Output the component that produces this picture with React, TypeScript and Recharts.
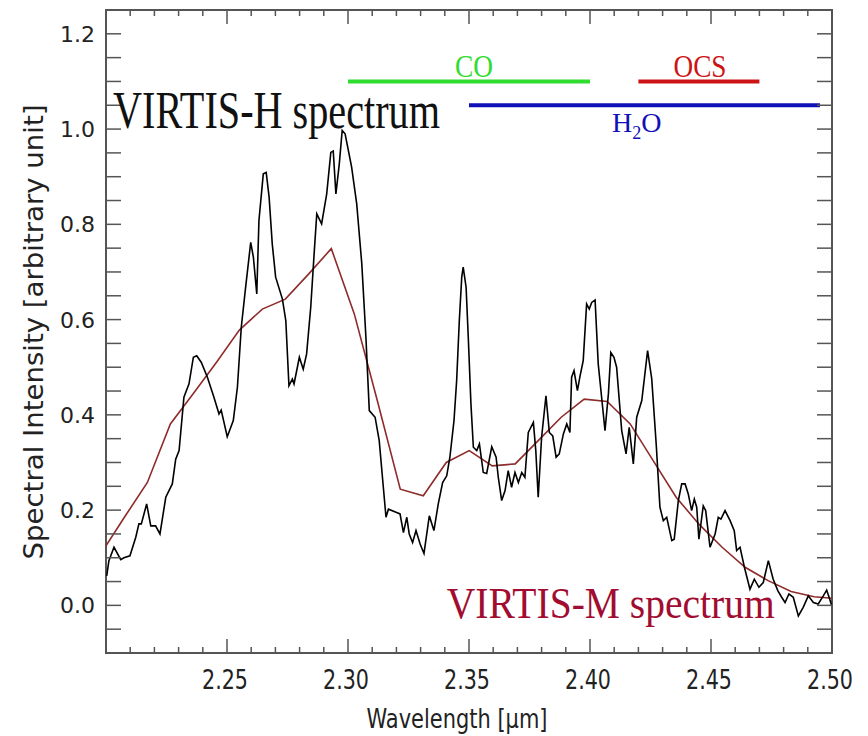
import React from "react";
import { LineChart, Line, XAxis, YAxis, ReferenceArea, ReferenceLine } from "recharts";

// VIRTIS-H high resolution spectrum (wavelength in µm, arbitrary intensity)
const H_WAVE = [
  2.2003, 2.2012, 2.2033, 2.2061, 2.2074, 2.2099, 2.2123, 2.2136, 2.2146, 2.2168,
  2.2185, 2.2205, 2.2223, 2.2247, 2.2274, 2.2288, 2.2302, 2.2322, 2.2343, 2.2361,
  2.2375, 2.2394, 2.2419, 2.2446, 2.2467, 2.2476, 2.2501, 2.2526, 2.2543, 2.2559,
  2.2577, 2.2598, 2.2609, 2.2623, 2.2632, 2.2650, 2.2662, 2.2674, 2.2687, 2.2701,
  2.2729, 2.2743, 2.2756, 2.2770, 2.2777, 2.2799, 2.2815, 2.2829, 2.2846, 2.2860,
  2.2871, 2.2891, 2.2912, 2.2929, 2.2939, 2.2950, 2.2964, 2.2976, 2.2988, 2.3015,
  2.3036, 2.3057, 2.3074, 2.3088, 2.3112, 2.3129, 2.3146, 2.3157, 2.3167, 2.3201,
  2.3215, 2.3229, 2.3243, 2.3253, 2.3267, 2.3281, 2.3298, 2.3314, 2.3336, 2.3355,
  2.3373, 2.3391, 2.3408, 2.3421, 2.3438, 2.3449, 2.3460, 2.3470, 2.3476, 2.3488,
  2.3497, 2.3508, 2.3518, 2.3532, 2.3543, 2.3559, 2.3573, 2.3594, 2.3612, 2.3621,
  2.3635, 2.3649, 2.3662, 2.3676, 2.3690, 2.3704, 2.3718, 2.3731, 2.3745, 2.3766,
  2.3776, 2.3786, 2.3800, 2.3818, 2.3832, 2.3846, 2.3860, 2.3873, 2.3890, 2.3904,
  2.3917, 2.3924, 2.3934, 2.3948, 2.3959, 2.3972, 2.3986, 2.3997, 2.4007, 2.4021,
  2.4034, 2.4048, 2.4062, 2.4076, 2.4086, 2.4099, 2.4110, 2.4131, 2.4149, 2.4162,
  2.4179, 2.4193, 2.4214, 2.4238, 2.4255, 2.4274, 2.4289, 2.4303, 2.4317, 2.4338,
  2.4348, 2.4365, 2.4379, 2.4393, 2.4406, 2.4420, 2.4431, 2.4441, 2.4450, 2.4468,
  2.4478, 2.4496, 2.4517, 2.4530, 2.4541, 2.4558, 2.4579, 2.4596, 2.4606, 2.4620,
  2.4638, 2.4661, 2.4679, 2.4698, 2.4716, 2.4737, 2.4757, 2.4776, 2.4792, 2.4806,
  2.4822, 2.4840, 2.4861, 2.4881, 2.4902, 2.4923, 2.4943, 2.4964, 2.4978, 2.4988,
  2.4999,
];
const H_INT = [
  0.062, 0.094, 0.122, 0.096, 0.100, 0.104, 0.143, 0.171, 0.171, 0.213,
  0.167, 0.167, 0.150, 0.227, 0.255, 0.307, 0.325, 0.437, 0.465, 0.521,
  0.524, 0.510, 0.479, 0.437, 0.402, 0.410, 0.354, 0.388, 0.458, 0.584,
  0.668, 0.762, 0.731, 0.654, 0.808, 0.906, 0.909, 0.857, 0.759, 0.689,
  0.643, 0.598, 0.461, 0.475, 0.465, 0.521, 0.496, 0.528, 0.626, 0.738,
  0.822, 0.801, 0.864, 0.951, 0.954, 0.864, 0.927, 0.997, 0.990, 0.920,
  0.843, 0.717, 0.563, 0.409, 0.395, 0.346, 0.248, 0.185, 0.202, 0.195,
  0.192, 0.153, 0.185, 0.150, 0.132, 0.157, 0.129, 0.109, 0.188, 0.157,
  0.213, 0.258, 0.272, 0.311, 0.388, 0.472, 0.598, 0.689, 0.710, 0.668,
  0.563, 0.423, 0.332, 0.325, 0.339, 0.279, 0.277, 0.333, 0.311, 0.269,
  0.220, 0.241, 0.283, 0.248, 0.279, 0.258, 0.279, 0.269, 0.363, 0.384,
  0.325, 0.227, 0.353, 0.440, 0.363, 0.356, 0.311, 0.318, 0.360, 0.381,
  0.363, 0.479, 0.493, 0.451, 0.482, 0.514, 0.633, 0.622, 0.636, 0.641,
  0.507, 0.437, 0.367, 0.444, 0.531, 0.521, 0.500, 0.367, 0.318, 0.374,
  0.297, 0.395, 0.430, 0.535, 0.476, 0.335, 0.206, 0.178, 0.185, 0.136,
  0.139, 0.220, 0.255, 0.255, 0.234, 0.199, 0.223, 0.206, 0.139, 0.209,
  0.199, 0.122, 0.150, 0.185, 0.181, 0.199, 0.178, 0.157, 0.115, 0.122,
  0.080, 0.034, 0.055, 0.038, 0.048, 0.094, 0.055, 0.031, 0.017, 0.006,
  0.024, 0.017, -0.022, -0.004, 0.020, 0.006, 0.003, 0.020, 0.032, 0.017,
  -0.001,
];

// VIRTIS-M low resolution spectrum
const M_WAVE = [
  2.1981, 2.2076, 2.2171, 2.2266, 2.2361, 2.2456, 2.2551, 2.2646, 2.2741, 2.2836,
  2.2931, 2.3026, 2.3121, 2.3216, 2.3311, 2.3406, 2.3501, 2.3596, 2.3691, 2.3786,
  2.3881, 2.3976, 2.4071, 2.4166, 2.4261, 2.4356, 2.4451, 2.4546, 2.4641, 2.4736,
  2.4831, 2.4926, 2.5021,
];
const M_INT = [
  0.110, 0.185, 0.258, 0.381, 0.445, 0.510, 0.578, 0.622, 0.643, 0.695,
  0.749, 0.612, 0.430, 0.244, 0.230, 0.300, 0.325, 0.293, 0.297, 0.346,
  0.395, 0.433, 0.428, 0.381, 0.304, 0.227, 0.170, 0.122, 0.080, 0.052,
  0.029, 0.018, 0.014,
];

// molecular band ranges
const BANDS = [
  { name: "CO", from: 2.30, to: 2.40, level: 1.10, color: "#2fdc2f" },
  { name: "OCS", from: 2.42, to: 2.47, level: 1.10, color: "#cc1414" },
  { name: "H2O", from: 2.35, to: 2.495, level: 1.05, color: "#1010b8" },
];

const X_TICKS = [
  2.21, 2.22, 2.23, 2.24, 2.25, 2.26, 2.27, 2.28, 2.29, 2.30,
  2.31, 2.32, 2.33, 2.34, 2.35, 2.36, 2.37, 2.38, 2.39, 2.40,
  2.41, 2.42, 2.43, 2.44, 2.45, 2.46, 2.47, 2.48, 2.49, 2.50,
];
const Y_TICKS = [
  -0.05, 0, 0.05, 0.1, 0.15, 0.2, 0.25, 0.3, 0.35, 0.4, 0.45, 0.5, 0.55,
  0.6, 0.65, 0.7, 0.75, 0.8, 0.85, 0.9, 0.95, 1.0, 1.05, 1.1, 1.15, 1.2,
];

const W = 860;
const H = 728;
const LEFT = 98;
const RIGHT = 824;
const TOP = 2;
const BOTTOM = 645;
const FRAME = "#555";
const AXIS_FONT = "'DejaVu Sans', Verdana, sans-serif";
const SERIF = "'Liberation Serif', 'Times New Roman', serif";

const hData = H_WAVE.map((w, i) => ({ w, v: H_INT[i] }));
const mData = M_WAVE.map((w, i) => ({ w, v: M_INT[i] }));

const isMult = (v: number, step: number) => Math.abs(v / step - Math.round(v / step)) < 1e-6;

const XTick = (props: any) => {
  const { x, payload } = props;
  const major = isMult(payload.value, 0.05);
  const len = major ? 14 : 6;
  return (
    <g>
      <line x1={x} x2={x} y1={BOTTOM} y2={BOTTOM - len} stroke={FRAME} strokeWidth={1.5} />
      <line x1={x} x2={x} y1={TOP} y2={TOP + len} stroke={FRAME} strokeWidth={1.5} />
      {major && (
        <text x={x - 2} y={681} textAnchor="middle" fontSize={26} fontFamily={AXIS_FONT}
          fill="#222" textLength={46} lengthAdjust="spacingAndGlyphs">
          {payload.value.toFixed(2)}
        </text>
      )}
    </g>
  );
};

const YTick = (props: any) => {
  const { y, payload } = props;
  const major = isMult(payload.value, 0.2);
  return (
    <g>
      <line x1={LEFT} x2={LEFT + 15} y1={y} y2={y} stroke={FRAME} strokeWidth={1.5} />
      <line x1={RIGHT} x2={RIGHT - 15} y1={y} y2={y} stroke={FRAME} strokeWidth={1.5} />
      {major && (
        <text x={87} y={y} dy="0.36em" textAnchor="end" fontSize={22} fontFamily={AXIS_FONT} fill="#222">
          {payload.value.toFixed(1)}
        </text>
      )}
    </g>
  );
};

export default function App() {
  return (
    <div style={{ position: "relative", width: W, height: H, background: "#fff" }}>
      <LineChart width={W} height={H} margin={{ top: TOP, right: W - RIGHT, left: 0, bottom: 0 }}>
        <XAxis
          type="number"
          dataKey="w"
          domain={[2.2, 2.5]}
          allowDataOverflow
          ticks={X_TICKS}
          interval={0}
          height={H - BOTTOM}
          axisLine={false}
          tickLine={false}
          tick={<XTick />}
        />
        <YAxis
          type="number"
          domain={[-0.1, 1.25]}
          allowDataOverflow
          ticks={Y_TICKS}
          interval={0}
          width={LEFT}
          axisLine={false}
          tickLine={false}
          tick={<YTick />}
        />
        <ReferenceArea x1={2.2} x2={2.5} y1={-0.1} y2={1.25} fill="none" stroke={FRAME} strokeWidth={2} />
        {BANDS.map((b) => (
          <ReferenceLine
            key={b.name}
            segment={[{ x: b.from, y: b.level }, { x: b.to, y: b.level }]}
            stroke={b.color}
            strokeWidth={4}
          />
        ))}
        <Line data={mData} dataKey="v" type="linear" stroke="#8e2b2b" strokeWidth={1.6}
          dot={false} isAnimationActive={false} />
        <Line data={hData} dataKey="v" type="linear" stroke="#000" strokeWidth={1.6}
          dot={false} isAnimationActive={false} />
      </LineChart>
      <svg width={W} height={H} style={{ position: "absolute", left: 0, top: 0, pointerEvents: "none" }}>
        <text x={25} y={324} transform="rotate(-90 25 324)" textAnchor="middle" dy="0.36em"
          fontSize={27} fontFamily={AXIS_FONT} fill="#222" textLength={455} lengthAdjust="spacingAndGlyphs">
          Spectral Intensity [arbitrary unit]
        </text>
        <text x={449} y={720} textAnchor="middle" fontSize={26} fontFamily={AXIS_FONT} fill="#222"
          textLength={181} lengthAdjust="spacingAndGlyphs">
          Wavelength [μm]
        </text>
        <text x={105} y={120} fontSize={53} fontFamily={SERIF} fill="#111"
          textLength={327} lengthAdjust="spacingAndGlyphs">
          VIRTIS-H spectrum
        </text>
        <text x={438.7} y={610} fontSize={45} fontFamily={SERIF} fill="#a10c30"
          textLength={328} lengthAdjust="spacingAndGlyphs">
          VIRTIS-M spectrum
        </text>
        <text x={466} y={69} textAnchor="middle" fontSize={32} fontFamily={SERIF} fill="#2fdc2f"
          textLength={38} lengthAdjust="spacingAndGlyphs">
          CO
        </text>
        <text x={692} y={69} textAnchor="middle" fontSize={32} fontFamily={SERIF} fill="#cc1414"
          textLength={53} lengthAdjust="spacingAndGlyphs">
          OCS
        </text>
        <text x={604} y={124} fontSize={28} fontFamily={SERIF} fill="#1010b8">
          H<tspan dy={7} fontSize={18}>2</tspan><tspan dy={-7}>O</tspan>
        </text>
      </svg>
    </div>
  );
}
